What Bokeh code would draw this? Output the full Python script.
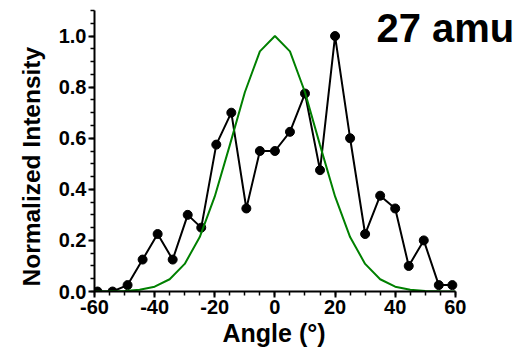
from bokeh.plotting import figure
from bokeh.models import Range1d, Label, FixedTicker, Title
from bokeh.embed import file_html
from bokeh.resources import INLINE

# Measured data (black, with markers)
angles = [-59, -54, -49, -44, -39, -34, -29, -24.5, -19.5, -14.5, -9.5, -5,
          0, 5, 10, 15, 20, 25, 30, 35, 40, 44.5, 49.5, 54.5, 59]
intensity = [0.0, 0.0, 0.025, 0.125, 0.225, 0.125, 0.30, 0.25, 0.575, 0.70,
             0.325, 0.55, 0.55, 0.625, 0.775, 0.475, 1.0, 0.60, 0.225, 0.375,
             0.325, 0.10, 0.20, 0.025, 0.025]

# Reference curve (green)
fit_angles = [-60, -55, -50, -45, -40, -35, -30, -25, -20, -15, -10, -5, 0,
              5, 10, 15, 20, 25, 30, 35, 40, 45, 50, 55, 60]
fit_values = [0.0, 0.0005, 0.002, 0.007, 0.019, 0.048, 0.108, 0.213, 0.372,
              0.573, 0.78, 0.94, 1.0, 0.94, 0.78, 0.573, 0.372, 0.213, 0.108,
              0.048, 0.019, 0.007, 0.002, 0.0005, 0.0]

x_major = [-60, -40, -20, 0, 20, 40, 60]
y_major = [0.0, 0.2, 0.4, 0.6, 0.8, 1.0]

FONT = "Liberation Sans"

p = figure(width=524, height=353, output_backend="svg", toolbar_location=None,
           x_range=Range1d(-60, 83), y_range=Range1d(0, 1.1),
           min_border_left=94, min_border_right=0, min_border_top=10,
           min_border_bottom=62)
p.xgrid.visible = False
p.ygrid.visible = False
p.outline_line_color = None
p.background_fill_color = "white"
p.border_fill_color = "white"

p.xaxis.bounds = (-60, 60)
p.xaxis.ticker = FixedTicker(ticks=x_major, minor_ticks=list(range(-60, 61, 5)))
p.yaxis.ticker = FixedTicker(ticks=y_major,
                             minor_ticks=[i * 0.05 for i in range(0, 23)])
p.xaxis.major_label_overrides = {v: str(v) for v in x_major}
p.yaxis.major_label_overrides = {v: f"{v:.1f}" for v in y_major}

for ax in (p.xaxis[0], p.yaxis[0]):
    ax.axis_line_width = 2
    ax.axis_line_color = "black"
    ax.major_tick_line_width = 2
    ax.minor_tick_line_width = 1.5
    ax.major_tick_line_color = "black"
    ax.minor_tick_line_color = "black"
    ax.major_tick_out = 6
    ax.major_tick_in = 0
    ax.minor_tick_out = 4
    ax.minor_tick_in = 0
    ax.major_label_text_font = FONT
    ax.major_label_text_font_style = "bold"
    ax.major_label_text_font_size = "20px"
    ax.major_label_text_color = "black"

p.xaxis.major_label_standoff = 2
p.yaxis.major_label_standoff = 2

xlabel = Title(text="Angle (°)", align="left", offset=128,
               vertical_align="top", standoff=4, text_font=FONT,
               text_font_style="bold", text_font_size="25px",
               text_color="black")
p.add_layout(xlabel, "below")

ylabel = Title(text="Normalized Intensity", align="left", offset=5,
               vertical_align="bottom", standoff=22, text_font=FONT,
               text_font_style="bold", text_font_size="24.5px",
               text_color="black")
p.add_layout(ylabel, "left")

p.line(angles, intensity, line_color="black", line_width=2)
p.scatter(angles, intensity, size=9, fill_color="black", line_color="black")
p.line(fit_angles, fit_values, line_color="#008000", line_width=2)

title = Label(x=79.6, y=1.03, text="27 amu", text_align="right",
              text_baseline="alphabetic", text_font=FONT,
              text_font_style="bold", text_font_size="40px",
              text_color="black")
p.add_layout(title)

open("out.html", "w").write(file_html(p, INLINE))
